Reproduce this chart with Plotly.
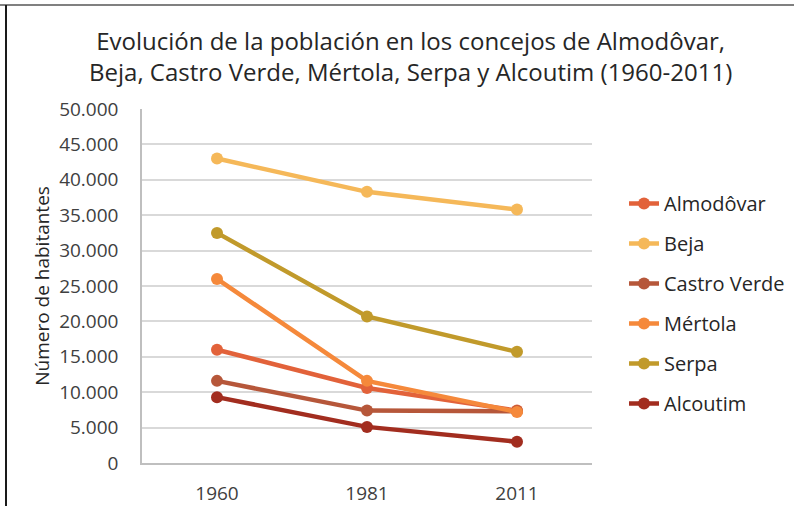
import plotly.graph_objects as go

years = ["1960", "1981", "2011"]
series_names = ["Almodôvar", "Beja", "Castro Verde", "Mértola", "Serpa", "Alcoutim"]
almodovar = [16000, 10600, 7400]
beja = [43000, 38300, 35800]
castro_verde = [11600, 7400, 7300]
mertola = [26000, 11600, 7200]
serpa = [32500, 20700, 15700]
alcoutim = [9300, 5100, 3000]
colors = ["#E2623A", "#F5B859", "#B6573A", "#F5893B", "#C19A2B", "#A22D1F"]
y_ticks = [0, 5000, 10000, 15000, 20000, 25000, 30000, 35000, 40000, 45000, 50000]

values = [almodovar, beja, castro_verde, mertola, serpa, alcoutim]
FONT = "Open Sans"

fig = go.Figure()
for name, vals, col in zip(series_names, values, colors):
    fig.add_trace(go.Scatter(
        x=years, y=vals, name=name, mode="lines+markers",
        line=dict(color=col, width=4.5),
        marker=dict(color=col, size=12),
        legendgroup=name,
    ))

L, R, T, B = 142, 202, 109, 43
W, H = 794, 506
pw, ph = W - L - R, H - T - B

def px_x(p):
    return (p - L) / pw

def px_y(p):
    return (H - B - p) / ph

fig.update_layout(
    width=W, height=H,
    margin=dict(l=L, r=R, t=T, b=B, autoexpand=False),
    paper_bgcolor="white", plot_bgcolor="white",
    separators=",.",
    font=dict(family=FONT, size=19, color="#404040"),
    showlegend=True,
    legend=dict(
        x=px_x(624), y=px_y(184), xanchor="left", yanchor="top",
        font=dict(family=FONT, size=20, color="#262626"),
        tracegroupgap=11, bgcolor="rgba(0,0,0,0)",
    ),
    xaxis=dict(
        type="category", range=[-0.5, 2.5], showgrid=False,
        showline=True, linecolor="#bfbfbf", linewidth=1.5,
        ticks="", ticklabelstandoff=12,
        tickfont=dict(family=FONT, size=19, color="#404040"),
        fixedrange=True,
    ),
    yaxis=dict(
        range=[0, 50000], tickvals=y_ticks, tickformat=",d",
        showgrid=True, gridcolor="#d9d9d9", gridwidth=1.5,
        showline=True, linecolor="#bfbfbf", linewidth=1.5,
        zeroline=False, ticks="", ticklabelstandoff=18,
        tickfont=dict(family=FONT, size=19, color="#404040"),
        title=dict(text="Número de habitantes", standoff=4,
                   font=dict(family=FONT, size=19, color="#262626")),
        fixedrange=True,
    ),
    annotations=[dict(
        text="Evolución de la población en los concejos de Almodôvar,<br>Beja, Castro Verde, Mértola, Serpa y Alcoutim (1960-2011)",
        x=px_x(410), y=px_y(56), xref="paper", yref="paper",
        xanchor="center", yanchor="middle", showarrow=False,
        font=dict(family=FONT, size=24, color="#262626"),
    )],
    shapes=[
        dict(type="line", xref="paper", yref="paper",
             x0=px_x(0), x1=px_x(W), y0=px_y(5), y1=px_y(5),
             line=dict(color="#808080", width=2)),
        dict(type="line", xref="paper", yref="paper",
             x0=px_x(6), x1=px_x(6), y0=px_y(5), y1=px_y(H),
             line=dict(color="#1a1a1a", width=2)),
    ],
)

fig.write_html(
    "out.html",
    config={"displayModeBar": False},
    post_script="document.body.style.margin='0';document.body.style.overflow='hidden';",
)
